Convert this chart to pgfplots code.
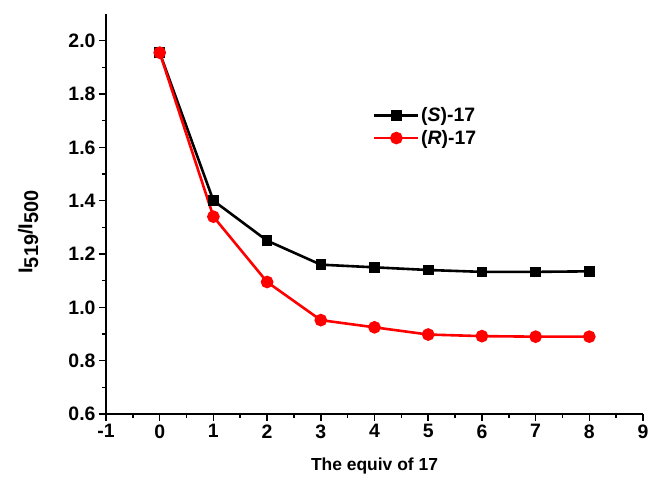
\documentclass[border=0pt]{standalone}
\usepackage{fontspec}
\setmainfont{Liberation Sans}
\usepackage{pgfplots}
\pgfplotsset{compat=1.18}

% full-size lowered subscript, as in the ordinate title
\newcommand{\lowsub}[1]{\raisebox{-0.28em}{#1}}

\begin{document}
\begin{tikzpicture}[x=1bp,y=1bp]
\useasboundingbox (-106bp,-65bp) rectangle (543bp,414bp);
\begin{axis}[
  at={(0,0)}, anchor=south west,
  scale only axis,
  width=537bp, height=400bp,
  xmin=-1, xmax=9, ymin=0.6, ymax=2.1,
  axis x line*=bottom, axis y line*=left,
  axis line style={line width=2bp},
  xtick={-1,0,...,9},
  ytick={0.6,0.8,...,2.01},
  minor x tick num=1, minor y tick num=1,
  tick align=outside,
  major tick length=7bp, minor tick length=4bp,
  every tick/.style={line width=1.6bp, black},
  tick label style={font=\bfseries\fontsize{19.5}{21}\selectfont},
  /pgf/number format/assume math mode=true,
  yticklabel style={/pgf/number format/.cd, fixed, fixed zerofill, precision=1},
  xlabel={\textbf{The equiv of 17}},
  xlabel style={font=\bfseries\fontsize{17.5}{19}\selectfont,
    at={(axis description cs:0.5,0)}, anchor=north, inner sep=0pt, yshift=-44bp},
  ylabel={\textbf{I\lowsub{519}/I\lowsub{500}}},
  ylabel style={font=\bfseries\fontsize{20}{22}\selectfont,
    at={(axis description cs:-0.145,0.455)}, anchor=center, inner sep=0pt},
  clip=false,
  legend style={at={(0.497,0.77)}, anchor=north west, draw=none, fill=none,
    font=\bfseries\fontsize{19.5}{21}\selectfont, row sep=4bp,
    inner sep=0pt, nodes={inner sep=1.5bp}},
  legend cell align=left,
  legend image code/.code={%
    \draw[mark repeat=2, mark phase=2] plot coordinates {(0bp,0bp) (22bp,0bp) (44bp,0bp)};},
]
\addplot[black, line width=2.6bp, mark=square*, mark size=4bp, mark options={solid}]
  coordinates {(0,1.955) (1,1.400) (2,1.250) (3,1.160) (4,1.150) (5,1.140) (6,1.133) (7,1.133) (8,1.135)};
\addlegendentry{(\textbf{\textit{S}})-17}
\addplot[red, line width=2.6bp, mark=*, mark size=5bp, mark options={solid}]
  coordinates {(0,1.955) (1,1.340) (2,1.095) (3,0.952) (4,0.925) (5,0.898) (6,0.892) (7,0.890) (8,0.890)};
\addlegendentry{(\textbf{\textit{R}})-17}
\end{axis}
\end{tikzpicture}
\end{document}
